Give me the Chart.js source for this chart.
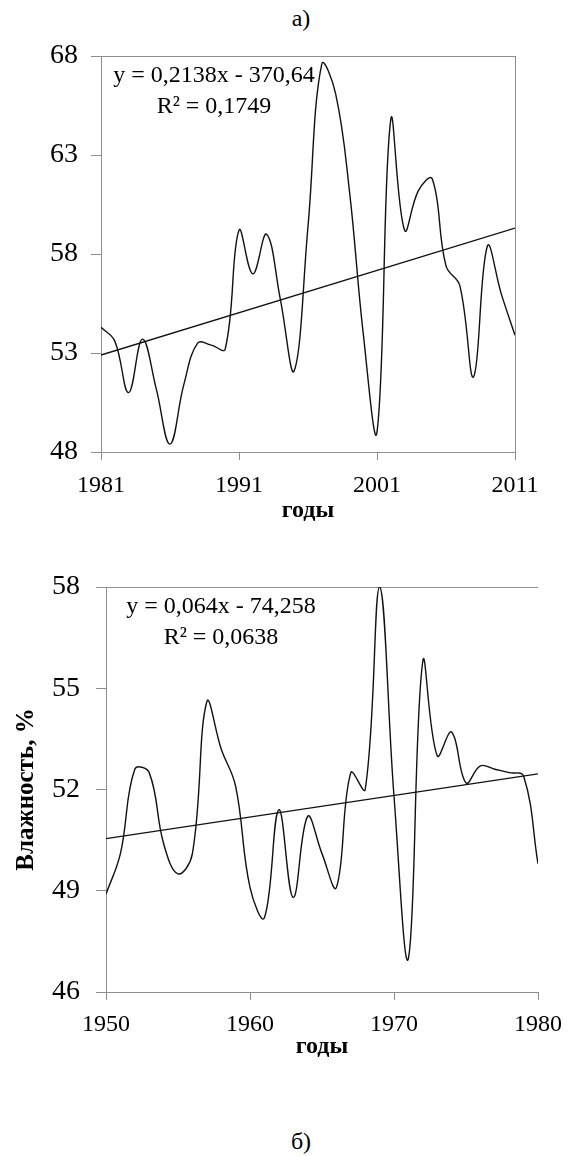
<!DOCTYPE html>
<html>
    <head>
        <meta charset="utf-8">
        <title>Влажность</title>
        <script src="https://cdn.jsdelivr.net/npm/chart.js@4.4.1/dist/chart.umd.min.js"></script>
        <style>
            body { margin: 0; background: #fff; font-family: "Liberation Serif", "Times New Roman", serif; }
            .page { position: relative; width: 578px; height: 1156px; }
            .caption { position: absolute; left: 0; width: 602px; text-align: center; font-size: 24px; line-height: 24px; }
            canvas { position: absolute; left: 0; }
        </style>
    </head>
    <body>
        <div class="page">
            <div class="caption" style="top: 6px">а)</div>
            <canvas id="chartA" width="578" height="540" style="top: 0"></canvas>
            <canvas id="chartB" width="578" height="560" style="top: 540px"></canvas>
            <div class="caption" style="top: 1129px">б)</div>
        </div>
        <script>
            // а) 1981–2011
            const yearsA = [1981, 1982, 1983, 1984, 1985, 1986, 1987, 1988, 1989, 1990,
                            1991, 1992, 1993, 1994, 1995, 1996, 1997, 1998, 1999, 2000,
                            2001, 2002, 2003, 2004, 2005, 2006, 2007, 2008, 2009, 2010, 2011];
            const humidityA = [54.3, 53.6, 51.0, 53.7, 51.2, 48.4, 51.4, 53.5, 53.4, 53.2,
                               59.2, 57.0, 59.0, 55.7, 52.1, 59.4, 67.6, 66.1, 61.2, 54.0,
                               49.0, 64.8, 59.2, 61.2, 61.8, 57.4, 56.4, 51.8, 58.4, 56.0, 53.9];
            const trendA = { slope: 0.2138, intercept: -370.64, r2: "0,1749", text: "y = 0,2138x - 370,64" };
            const ticksA = { min: 48, max: 68, step: 5 };

            // б) 1950–1980
            const yearsB = [1950, 1951, 1952, 1953, 1954, 1955, 1956, 1957, 1958, 1959,
                            1960, 1961, 1962, 1963, 1964, 1965, 1966, 1967, 1968, 1969,
                            1970, 1971, 1972, 1973, 1974, 1975, 1976, 1977, 1978, 1979, 1980];
            const humidityB = [48.9, 50.1, 52.6, 52.5, 50.4, 49.5, 50.1, 54.6, 53.2, 52.1,
                               49.1, 48.2, 51.4, 48.8, 51.2, 50.1, 49.1, 52.5, 52.0, 58.0,
                               51.8, 47.0, 55.8, 53.0, 53.7, 52.2, 52.7, 52.6, 52.5, 52.4, 49.8];
            const trendB = { slope: 0.064, intercept: -74.258, r2: "0,0638", text: "y = 0,064x - 74,258" };
            const ticksB = { min: 46, max: 58, step: 3 };

            const axisGray = "#8e8e8e";
            const serif = "'Liberation Serif', 'Times New Roman', serif";
            Chart.defaults.font.family = serif;
            Chart.defaults.color = "#000";

            // writes the regression equation in the upper left corner of the plot
            const equationLabel = {
                id: "equationLabel",
                afterDraw(chart, args, opts) {
                    const { ctx, chartArea } = chart;
                    ctx.save();
                    ctx.font = `24px ${serif}`;
                    ctx.fillStyle = "#000";
                    ctx.textAlign = "center";
                    ctx.textBaseline = "middle";
                    ctx.fillText(opts.text, chartArea.left + opts.dx, chartArea.top + 20);
                    ctx.fillText(`R² = ${opts.r2}`, chartArea.left + opts.dx, chartArea.top + 51);
                    ctx.restore();
                }
            };

            const makeChart = (canvas, years, values, trend, yTicks, opts) => {
                const first = years[0];
                const last = years[years.length - 1];
                const points = years.map((year, i) => ({ x: year, y: values[i] }));
                const trendLine = [first, last].map(year => ({ x: year, y: trend.slope * year + trend.intercept }));

                return new Chart(canvas, {
                    type: "line",
                    data: {
                        datasets: [
                            {
                                data: points,
                                borderColor: "#111",
                                borderWidth: 1.4,
                                pointRadius: 0,
                                tension: 0.4,
                            },
                            {
                                data: trendLine,
                                borderColor: "#111",
                                borderWidth: 1.3,
                                pointRadius: 0,
                            },
                        ]
                    },
                    options: {
                        responsive: false,
                        animation: false,
                        layout: { padding: { top: opts.top, right: opts.right, left: 0, bottom: 0 } },
                        plugins: {
                            legend: { display: false },
                            tooltip: { enabled: false },
                            equationLabel: { text: trend.text, r2: trend.r2, dx: opts.labelDx },
                        },
                        scales: {
                            x: {
                                type: "linear",
                                min: first,
                                max: last,
                                afterFit: scale => { scale.height = opts.xHeight; },
                                border: { color: axisGray },
                                grid: {
                                    color: c => (opts.rightFrame && c.tick && c.tick.value === last) ? axisGray : "transparent",
                                    tickColor: axisGray,
                                    tickLength: 8,
                                },
                                ticks: {
                                    stepSize: 10,
                                    padding: opts.xTickPadding,
                                    font: { size: 24 },
                                    callback: v => String(v),
                                },
                                title: {
                                    display: true,
                                    text: "годы",
                                    font: { size: 24, weight: "bold" },
                                    padding: { top: 0, bottom: opts.xTitlePadding },
                                },
                            },
                            y: {
                                min: yTicks.min,
                                max: yTicks.max,
                                afterFit: scale => { scale.width = opts.yWidth; },
                                border: { color: axisGray },
                                grid: {
                                    color: c => (c.tick && c.tick.value === yTicks.max) ? axisGray : "transparent",
                                    tickColor: axisGray,
                                    tickLength: 10,
                                },
                                ticks: {
                                    stepSize: yTicks.step,
                                    padding: opts.yTickPadding,
                                    font: { size: 28 },
                                },
                                title: {
                                    display: !!opts.yTitle,
                                    text: opts.yTitle || "",
                                    font: { size: 25, weight: "bold" },
                                    padding: { top: 12, bottom: 0 },
                                },
                            },
                        },
                    },
                    plugins: [equationLabel],
                });
            };

            makeChart(document.getElementById("chartA"), yearsA, humidityA, trendA, ticksA, {
                top: 56, right: 63, xHeight: 88, yWidth: 101,
                xTickPadding: 11, xTitlePadding: 15, yTickPadding: 13,
                labelDx: 113, rightFrame: true,
            });

            makeChart(document.getElementById("chartB"), yearsB, humidityB, trendB, ticksB, {
                top: 47, right: 40, xHeight: 108, yWidth: 106,
                xTickPadding: 10, xTitlePadding: 39, yTickPadding: 16,
                labelDx: 115, rightFrame: false, yTitle: "Влажность, %",
            });
        </script>
    </body>
</html>
